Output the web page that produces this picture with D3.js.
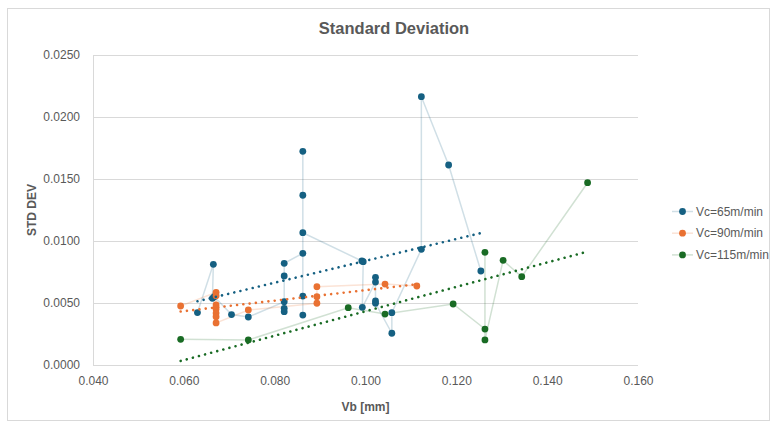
<!DOCTYPE html>
<html>
<head>
<meta charset="utf-8">
<script src="https://cdn.jsdelivr.net/npm/d3@7"></script>
<style>
  body { margin: 0; background: #fff; }
  svg text { font-family: "Liberation Sans", Arial, sans-serif; fill: #595959; }
</style>
</head>
<body>
<div id="chart"></div>
<script>
// series data (Vb in mm, std dev), in the order they were recorded
var vb65 = [0.0630, 0.0665, 0.0663, 0.0667, 0.0705, 0.0742, 0.0821, 0.0821, 0.0821, 0.0821, 0.0821,
            0.0862, 0.0862, 0.0862, 0.0862, 0.0862, 0.0862, 0.0992, 0.0995, 0.0993,
            0.1022, 0.1022, 0.1022, 0.1022, 0.1058, 0.1058, 0.1123, 0.1123, 0.1183, 0.1254];
var sd65 = [0.00423, 0.00812, 0.00538, 0.00551, 0.00407, 0.00387, 0.00510, 0.00457, 0.00430, 0.00718, 0.00820,
            0.00901, 0.00403, 0.00556, 0.01369, 0.01723, 0.01067, 0.00839, 0.00833, 0.00465,
            0.00669, 0.00707, 0.00516, 0.00498, 0.00256, 0.00422, 0.00933, 0.02164, 0.01613, 0.00758];

var vb90 = [0.0593, 0.0671, 0.0671, 0.0671, 0.0671, 0.0671, 0.0671, 0.0671, 0.0742,
            0.0893, 0.0893, 0.0893, 0.1043, 0.1113];
var sd90 = [0.00476, 0.00586, 0.00559, 0.00484, 0.00452, 0.00419, 0.00390, 0.00339, 0.00444,
            0.00498, 0.00551, 0.00632, 0.00653, 0.00637];

var vb115 = [0.0593, 0.0742, 0.0962, 0.1043, 0.1193, 0.1263, 0.1263, 0.1263, 0.1303, 0.1344, 0.1489];
var sd115 = [0.00207, 0.00202, 0.00462, 0.00411, 0.00492, 0.00290, 0.00909, 0.00202, 0.00844, 0.00712, 0.01470];

var seriesNames = ['Vc=65m/min', 'Vc=90m/min', 'Vc=115m/min'];
var seriesColors = ['#156082', '#E97132', '#196B24'];
var xTicks = [0.04, 0.06, 0.08, 0.10, 0.12, 0.14, 0.16];
var yTicks = [0, 0.005, 0.010, 0.015, 0.020, 0.025];

var width = 773, height = 423;
var plotLeft = 93, plotRight = 638, plotTop = 55, plotBottom = 365;

var svg = d3.select('#chart').append('svg')
  .attr('width', width)
  .attr('height', height);

svg.append('rect')
  .attr('x', 7.5).attr('y', 8.5)
  .attr('width', 762).attr('height', 412)
  .attr('fill', '#fff')
  .attr('stroke', '#d9d9d9');

var x = d3.scaleLinear().domain([0.04, 0.16]).range([plotLeft, plotRight]);
var y = d3.scaleLinear().domain([0, 0.025]).range([plotBottom, plotTop]);

// gridlines
svg.append('g')
  .selectAll('line')
  .data(yTicks)
  .enter().append('line')
  .attr('x1', plotLeft).attr('x2', plotRight)
  .attr('y1', d => Math.round(y(d)) + 0.5)
  .attr('y2', d => Math.round(y(d)) + 0.5)
  .attr('stroke', '#d9d9d9');

svg.append('line')
  .attr('x1', plotLeft + 0.5).attr('x2', plotLeft + 0.5)
  .attr('y1', plotTop).attr('y2', plotBottom)
  .attr('stroke', '#d9d9d9');

var xAxis = svg.append('g')
  .attr('transform', `translate(0,${plotBottom})`)
  .call(d3.axisBottom(x).tickValues(xTicks).tickFormat(d3.format('.3f')).tickSize(0).tickPadding(11));
xAxis.select('.domain').remove();
xAxis.selectAll('text').style('font-size', '12px').style('fill', '#595959');

var yAxis = svg.append('g')
  .attr('transform', `translate(${plotLeft},0)`)
  .call(d3.axisLeft(y).tickValues(yTicks).tickFormat(d3.format('.4f')).tickSize(0).tickPadding(13));
yAxis.select('.domain').remove();
yAxis.selectAll('text').style('font-size', '12px').style('fill', '#595959');

// titles
svg.append('text')
  .attr('x', 394).attr('y', 34)
  .attr('text-anchor', 'middle')
  .style('font-size', '16.5px')
  .style('font-weight', 'bold')
  .text('Standard Deviation');

svg.append('text')
  .attr('x', (plotLeft + plotRight) / 2).attr('y', 411)
  .attr('text-anchor', 'middle')
  .style('font-size', '12px')
  .style('font-weight', 'bold')
  .text('Vb [mm]');

svg.append('text')
  .attr('transform', 'translate(36,210) rotate(-90)')
  .attr('text-anchor', 'middle')
  .style('font-size', '12px')
  .style('font-weight', 'bold')
  .text('STD DEV');

var series = [
  d3.zip(vb65, sd65),
  d3.zip(vb90, sd90),
  d3.zip(vb115, sd115)
];

var line = d3.line().x(d => x(d[0])).y(d => y(d[1]));

// connecting lines
series.forEach((pts, i) => {
  svg.append('path')
    .datum(pts)
    .attr('d', line)
    .attr('fill', 'none')
    .attr('stroke', seriesColors[i])
    .attr('stroke-opacity', 0.2)
    .attr('stroke-width', 1.5);
});

// markers
series.forEach((pts, i) => {
  svg.append('g')
    .selectAll('circle')
    .data(pts)
    .enter().append('circle')
    .attr('cx', d => x(d[0]))
    .attr('cy', d => y(d[1]))
    .attr('r', 3.4)
    .attr('fill', seriesColors[i]);
});

// linear trendlines
function fit(pts) {
  var mx = d3.mean(pts, d => d[0]);
  var my = d3.mean(pts, d => d[1]);
  var sxy = d3.sum(pts, d => (d[0] - mx) * (d[1] - my));
  var sxx = d3.sum(pts, d => (d[0] - mx) * (d[0] - mx));
  var b = sxy / sxx;
  var a = my - b * mx;
  var ext = d3.extent(pts, d => d[0]);
  return ext.map(v => [v, a + b * v]);
}

series.forEach((pts, i) => {
  svg.append('path')
    .datum(fit(pts))
    .attr('d', line)
    .attr('fill', 'none')
    .attr('stroke', seriesColors[i])
    .attr('stroke-width', 2.6)
    .attr('stroke-linecap', 'round')
    .attr('stroke-dasharray', '0.01 6.3');
});

// legend
var legend = svg.append('g')
  .selectAll('g')
  .data(seriesNames)
  .enter().append('g')
  .attr('transform', (d, i) => `translate(672,${211.5 + i * 21.7})`);

legend.append('line')
  .attr('x1', 0).attr('x2', 21)
  .attr('stroke', (d, i) => seriesColors[i])
  .attr('stroke-opacity', 0.2)
  .attr('stroke-width', 1.5);

legend.append('circle')
  .attr('cx', 10.5).attr('r', 3.4)
  .attr('fill', (d, i) => seriesColors[i]);

legend.append('text')
  .attr('x', 24).attr('dy', '0.35em')
  .style('font-size', '12px')
  .text(d => d);
</script>
</body>
</html>
